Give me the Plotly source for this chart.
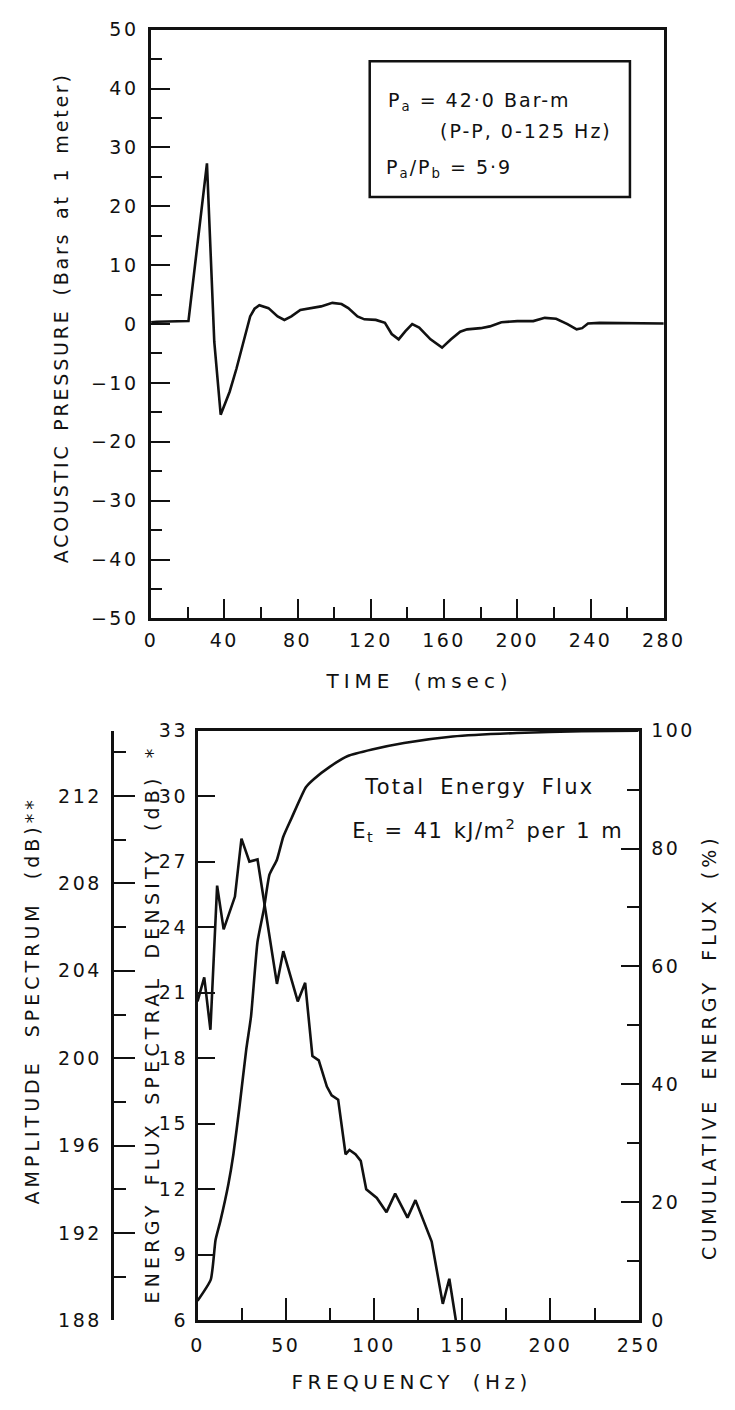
import json
import plotly.graph_objects as go

W, H = 735, 1410

# ---- upper panel: far-field pressure signature ----
time_ms = [0, 3, 20.4, 30.5, 34.5, 38.0, 42.9, 46.6, 50.4, 54.1, 56.5, 59.1, 64.1, 69.1,
           72.8, 76.6, 81.5, 87.8, 92.8, 99.0, 104.0, 107.7, 112.7, 116.5, 122.7, 127.7,
           131.4, 135.2, 138.9, 142.6, 146.4, 152.6, 158.9, 163.8, 168.8, 172.6, 180.0,
           185.0, 191.3, 200.0, 208.7, 215.0, 221.2, 227.4, 232.4, 235.4, 238.6, 244.9, 280]
pressure_bar = [0.3, 0.4, 0.5, 27.3, -3.0, -15.4, -11.5, -7.6, -3.1, 1.3, 2.6, 3.2, 2.7, 1.3,
                0.7, 1.3, 2.4, 2.7, 3.0, 3.6, 3.4, 2.7, 1.3, 0.8, 0.7, 0.2,
                -1.7, -2.6, -1.2, 0.0, -0.6, -2.6, -4.0, -2.6, -1.3, -0.9, -0.7,
                -0.4, 0.3, 0.5, 0.5, 1.05, 0.9, 0.0, -0.9, -0.7, 0.1, 0.2, 0.1]

time_ticks = [0, 40, 80, 120, 160, 200, 240, 280]
pressure_ticks = [-50, -40, -30, -20, -10, 0, 10, 20, 30, 40, 50]

# ---- lower panel: spectra ----
esd_freq_hz = [0, 3.8, 7.3, 11.1, 14.8, 21.2, 24.9, 29.4, 34.0, 45.0, 48.6, 56.8, 61.0,
               65.1, 68.7, 73.3, 76.0, 79.7, 83.9, 86.1, 89.5, 92.5, 95.6, 101.6, 107.1,
               112.0, 119.0, 123.5, 132.7, 139.0, 142.7, 146.4]
esd_db = [20.6, 21.7, 19.3, 25.9, 23.9, 25.4, 28.05, 27.0, 27.1, 21.4, 22.9, 20.6, 21.45,
          18.1, 17.9, 16.7, 16.3, 16.1, 13.6, 13.8, 13.6, 13.3, 12.0, 11.6, 10.95,
          11.8, 10.7, 11.5, 9.6, 6.75, 7.9, 6.0]

cum_freq_hz = [0, 7.5, 10.2, 13.0, 17.5, 20.3, 23.9, 27.6, 30.3, 34.0, 37.6, 40.8, 45.0,
               48.6, 53.2, 61.4, 66.0, 75.1, 85.2, 98.9, 117.0, 144.6, 181.0, 217.7, 250]
cum_pct = [3.3, 6.9, 13.6, 16.9, 23.1, 28.1, 36.5, 45.9, 51.5, 64.2, 69.7, 75.6, 78.1,
           82.0, 85.1, 90.4, 91.8, 93.9, 95.7, 96.8, 97.9, 99.0, 99.6, 99.9, 100.0]

freq_ticks = [0, 50, 100, 150, 200, 250]
esd_ticks = [6, 9, 12, 15, 18, 21, 24, 27, 30, 33]
amp_ticks = [188, 192, 196, 200, 204, 208, 212]
cum_ticks = [0, 20, 40, 60, 80, 100]

FONT = "DejaVu Sans"
INK = "#111111"


def fx(p):
    return p / W


def fy(p):
    return 1 - p / H


def axis_style(**kw):
    base = dict(showline=True, linecolor=INK, linewidth=2.5, showgrid=False,
                zeroline=False, ticks="inside", tickcolor=INK, tickwidth=2,
                tickfont=dict(family=FONT, size=19, color=INK))
    base.update(kw)
    return base


def minor(step, length):
    return dict(dtick=step, ticks="inside", ticklen=length, tickwidth=2,
                tickcolor=INK, showgrid=False)


fig = go.Figure()

fig.add_trace(go.Scatter(x=time_ms, y=pressure_bar, mode="lines",
                         line=dict(color=INK, width=2.6), xaxis="x", yaxis="y",
                         showlegend=False, hoverinfo="skip"))
fig.add_trace(go.Scatter(x=esd_freq_hz, y=esd_db, mode="lines",
                         line=dict(color=INK, width=2.6), xaxis="x2", yaxis="y2",
                         showlegend=False, hoverinfo="skip"))
fig.add_trace(go.Scatter(x=cum_freq_hz, y=cum_pct, mode="lines",
                         line=dict(color=INK, width=2.6, shape="spline", smoothing=0.5),
                         xaxis="x2", yaxis="y3", showlegend=False, hoverinfo="skip"))
# empty trace so the amplitude-spectrum scale is laid out
fig.add_trace(go.Scatter(x=[None], y=[None], mode="lines", xaxis="x2", yaxis="y4",
                         showlegend=False, hoverinfo="skip"))

layout = dict(
    width=W, height=H, margin=dict(l=0, r=0, t=0, b=0),
    paper_bgcolor="white", plot_bgcolor="white", showlegend=False,
    xaxis=axis_style(domain=[fx(150), fx(680)], anchor="y", range=[0, 280],
                     tickvals=time_ticks, ticklen=20, minor=minor(20, 12),
                     mirror=True, ticklabelstandoff=3),
    yaxis=axis_style(domain=[fy(617), fy(19)], anchor="x", range=[-50, 50],
                     tickvals=pressure_ticks, ticklen=19, minor=minor(5, 11),
                     mirror=True, ticklabelstandoff=6),
    xaxis2=axis_style(domain=[fx(198), fx(654)], anchor="y2", range=[0, 250],
                      tickvals=freq_ticks, ticklen=22, minor=minor(25, 12),
                      mirror=True, ticklabelstandoff=6),
    yaxis2=axis_style(domain=[fy(1330), fy(731)], anchor="x2", range=[6, 33],
                      tickvals=esd_ticks, ticklen=18, ticklabelstandoff=3),
    yaxis3=axis_style(overlaying="y2", anchor="x2", side="right", range=[0, 100],
                      tickvals=cum_ticks, ticklen=18, minor=minor(10, 12),
                      ticklabelstandoff=6),
    yaxis4=axis_style(overlaying="y2", anchor="free", position=fx(110), side="left",
                      range=[188, 215], tickvals=amp_ticks, ticklen=21,
                      minor=minor(2, 12), ticklabelstandoff=6),
)
fig.update_layout(**layout)

# axis titles and panel text: (text, x px, y px, angle, size, letter spacing, word spacing)
labels = [
    ("ACOUSTIC PRESSURE (Bars at 1 meter)", 57, 312, -90, 19, 2.8, 4),
    ("TIME (msec)", 427, 681, 0, 20, 5, 8),
    ("FREQUENCY (Hz)", 419, 1393, 0, 20, 4.5, 8),
    ("AMPLITUDE SPECTRUM (dB)**", 27, 1005, -90, 19, 4, 12),
    ("ENERGY FLUX SPECTRAL DENSITY (dB) *", 151, 1029, -90, 19, 4.2, 6),
    ("CUMULATIVE ENERGY FLUX (%)", 726, 1052, -90, 19, 4, 8),
    ("Total Energy Flux", 489, 788, 0, 21, 2.2, 6),
    ("E<sub>t</sub> = 41 kJ/m<sup>2</sup> per 1 m", 498, 832, 0, 21, 1.5, 2),
    ("P<sub>a</sub> = 42·0 Bar-m", 489, 92, 0, 19, 2, 0),
    ("(P-P, 0-125 Hz)", 538, 122, 0, 19, 2, 0),
    ("P<sub>a</sub>/P<sub>b</sub> = 5·9", 458, 160, 0, 19, 2, 0),
]

annotations = []
spacing = []
for text, px, py, ang, size, ls, ws in labels:
    annotations.append(dict(text=text, x=fx(px), y=fy(py), xref="paper", yref="paper",
                            xanchor="center", yanchor="middle", showarrow=False,
                            textangle=ang, font=dict(family=FONT, size=size, color=INK)))
    spacing.append([ls, ws])
fig.update_layout(annotations=annotations)

# frame around the source parameters
fig.add_shape(type="rect", xref="paper", yref="paper",
              x0=fx(376), x1=fx(645), y0=fy(189), y1=fy(51),
              line=dict(color=INK, width=2.5), fillcolor="rgba(0,0,0,0)")

# wide technical lettering
post = """
var gd = document.getElementById('{plot_id}');
var sp = %s;
gd.querySelectorAll('g.xtick text, g.ytick text, g.x2tick text, g.y2tick text, g.y3tick text, g.y4tick text')
  .forEach(function (t) { t.style.letterSpacing = '2.5px'; });
gd.querySelectorAll('g.annotation').forEach(function (g) {
  var i = parseInt(g.getAttribute('data-index'));
  var t = g.querySelector('text');
  if (t && sp[i]) { t.style.letterSpacing = sp[i][0] + 'px'; t.style.wordSpacing = sp[i][1] + 'px'; }
});
""" % json.dumps(spacing)

fig.write_html("out.html", post_script=post, config={"displayModeBar": False})
